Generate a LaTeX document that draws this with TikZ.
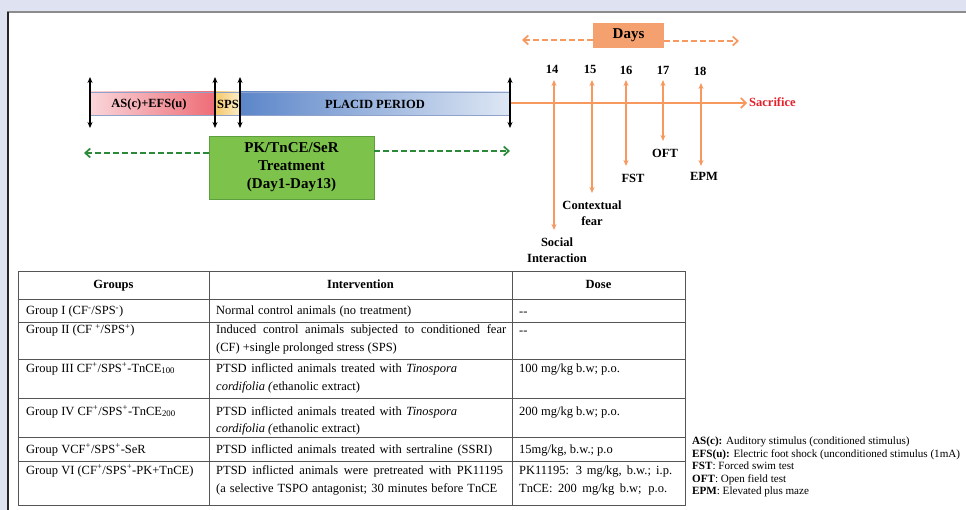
\documentclass[tikz,border=0pt]{standalone}
\usepackage{fontspec}
\setmainfont{Liberation Serif}
\usetikzlibrary{arrows.meta}
\definecolor{bgblue}{HTML}{DFE3F1}
\definecolor{redL}{HTML}{F9D6DA}
\definecolor{redR}{HTML}{EE6C76}
\definecolor{yelL}{HTML}{F5C768}
\definecolor{yelR}{HTML}{FBEDC8}
\definecolor{bluL}{HTML}{5C86C9}
\definecolor{bluR}{HTML}{DEE7F4}
\definecolor{barline}{HTML}{8EA2CA}
\definecolor{grfill}{HTML}{7CC24B}
\definecolor{grline}{HTML}{5E9E3E}
\definecolor{grdash}{HTML}{2B8A3A}
\definecolor{orange1}{HTML}{F7995F}
\definecolor{daysfill}{HTML}{F4A16F}
\definecolor{sacred}{HTML}{E5202A}
\definecolor{tblline}{HTML}{555555}
\tikzset{
  blackarr/.style={line width=1.2pt,black,{Stealth[length=6pt,width=5pt]}-{Stealth[length=6pt,width=5pt]}},
  orarr/.style={line width=1.4pt,orange1,{Stealth[length=6pt,width=5pt]}-{Stealth[length=6pt,width=5pt]}},
  gdash/.style={line width=1.7pt,grdash,dash pattern=on 6pt off 3pt,-{Straight Barb[length=5pt,width=9pt]}},
  odash/.style={line width=1.7pt,orange1,dash pattern=on 6pt off 3pt,-{Straight Barb[length=5pt,width=9pt]}},
  btxt/.style={font=\fontsize{12.5}{14}\selectfont\bfseries,inner sep=0pt},
  tcell/.style={font=\fontsize{12.5}{14}\selectfont,inner sep=0pt,anchor=base west},
  thead/.style={font=\fontsize{12.5}{14}\selectfont\bfseries,inner sep=0pt,anchor=base},
  legtxt/.style={font=\fontsize{11.1}{12}\selectfont,inner sep=0pt,anchor=base west},
}
\begin{document}
\begin{tikzpicture}[x=1pt,y=-1pt]
\useasboundingbox (0,0) rectangle (966,510);
\fill[bgblue] (0,0) rectangle (966,510);
\fill[white] (8,12) rectangle (966,510);
\draw[line width=2pt,black!45] (7,12) -- (966,12);
\draw[line width=1.5pt,black!85] (8,12) -- (8,510);

% ---- timeline bars
\shade[left color=redL,right color=redR] (90,92) rectangle (215,115);
\shade[left color=yelL,right color=yelR] (215,92) rectangle (240,115);
\shade[left color=bluL,right color=bluR] (240,92) rectangle (510,115);
\draw[barline,line width=0.8pt] (90,92) rectangle (510,115);
\node[btxt] (asefs) at (149,104) {AS(c)+EFS(u)};
\node[btxt] (sps) at (228,104) {SPS};
\node[btxt] (placid) at (375,104) {PLACID PERIOD};

\foreach \n/\x in {a/90,b/215,c/240,d/510}{
  \coordinate (t\n) at (\x,77);
  \coordinate (b\n) at (\x,128);
  \draw[blackarr] (t\n) -- (b\n);
}

% ---- treatment box
\node[draw=grline,fill=grfill,line width=0.8pt,minimum width=165pt,minimum height=63pt,
  align=center,font=\fontsize{15}{18}\selectfont\bfseries,inner sep=0pt] (treat) at (291.5,167.5)
  {PK/TnCE/SeR\\Treatment\\(Day1-Day13)};
\coordinate (gl) at (84,153);
\coordinate (gr) at (510,151);
\draw[gdash] (treat.west |- gl) -- (gl);
\draw[gdash] (treat.east |- gr) -- (gr);

% ---- days
\node[fill=daysfill,minimum width=71pt,minimum height=25pt,inner sep=0pt,
  font=\fontsize{15}{17}\selectfont\bfseries] (days) at (628.5,35.5) {Days};
\coordinate (dl) at (522,40);
\coordinate (dr) at (739,41);
\draw[odash] (days.west |- dl) -- (dl);
\draw[odash] (days.east |- dr) -- (dr);

% ---- post timeline
\coordinate (ostart) at (511,103);
\node[btxt,text=sacred,anchor=west] (sac) at (749,102) {Sacrifice};
\draw[line width=1.7pt,orange1,-{Straight Barb[length=5pt,width=10pt]}] (ostart) -- ([xshift=-2pt]ostart -| sac.west);

\node[btxt] (d14) at (552,69) {14};
\node[btxt] (d15) at (590,69) {15};
\node[btxt] (d16) at (626,70) {16};
\node[btxt] (d17) at (663,70) {17};
\node[btxt] (d18) at (700,71) {18};

\coordinate (e14) at (554,230);
\coordinate (e15) at (592,193);
\coordinate (e16) at (626,166);
\coordinate (e17) at (663,141);
\coordinate (e18) at (701,166);
\draw[orarr] (554,80) -- (e14);
\draw[orarr] (592,80) -- (e15);
\draw[orarr] (626,80) -- (e16);
\draw[orarr] (663,80) -- (e17);
\draw[orarr] (701,83) -- (e18);

\node[btxt,align=center,font=\fontsize{12.5}{16}\selectfont\bfseries] (social) at (557,250) {Social\\Interaction};
\node[btxt,align=center,font=\fontsize{12.5}{16}\selectfont\bfseries] (ctx) at (592,213) {Contextual\\fear};
\node[btxt] (fst) at (633,178) {FST};
\node[btxt] (oft) at (665,153) {OFT};
\node[btxt] (epm) at (704,176) {EPM};

% ---- table
\begin{scope}[tblline,line width=0.8pt]
\draw (18,271) rectangle (685,505);
\foreach \y in {299,322,359,398,437,461} \draw (18,\y) -- (685,\y);
\draw (209,271) -- (209,505);
\draw (512,271) -- (512,505);
\end{scope}

\node[thead] (h1) at (113.5,289) {Groups};
\node[thead] (h2) at (360.5,289) {Intervention};
\node[thead] (h3) at (598.5,289) {Dose};

% row I
\node[tcell] (g1) at (26,315) {Group I (CF\textsuperscript{-}/SPS\textsuperscript{-})};
\node[tcell] (i1) at (216,315) {\makebox[195pt][s]{Normal control animals (no treatment)}};
\node[tcell] (s1) at (519,316) {-{}-};
% row II
\node[tcell] (g2) at (26,334) {Group II (CF \textsuperscript{+}/SPS\textsuperscript{+})};
\node[tcell] (i2a) at (216,334) {\makebox[290pt][s]{Induced control animals subjected to conditioned fear}};
\node[tcell] (i2b) at (216,352) {(CF) +single prolonged stress (SPS)};
\node[tcell] (s2) at (519,335) {-{}-};
% row III
\node[tcell] (g3) at (26,372) {Group III CF\textsuperscript{+}/SPS\textsuperscript{+}-TnCE\textsubscript{100}};
\node[tcell] (i3a) at (216,372) {\makebox[241pt][s]{PTSD inflicted animals treated with \textit{Tinospora}}};
\node[tcell] (i3b) at (216,390) {\textit{cordifolia (}ethanolic extract)};
\node[tcell] (s3) at (519,372) {100 mg/kg b.w; p.o.};
% row IV
\node[tcell] (g4) at (26,415) {Group IV CF\textsuperscript{+}/SPS\textsuperscript{+}-TnCE\textsubscript{200}};
\node[tcell] (i4a) at (216,415) {\makebox[241pt][s]{PTSD inflicted animals treated with \textit{Tinospora}}};
\node[tcell] (i4b) at (216,432) {\textit{cordifolia (}ethanolic extract)};
\node[tcell] (s4) at (519,415) {200 mg/kg b.w; p.o.};
% row V
\node[tcell] (g5) at (26,453) {Group VCF\textsuperscript{+}/SPS\textsuperscript{+}-SeR};
\node[tcell] (i5) at (216,453) {\makebox[276pt][s]{PTSD inflicted animals treated with sertraline (SSRI)}};
\node[tcell] (s5) at (519,453) {15mg/kg, b.w.; p.o};
% row VI
\node[tcell] (g6) at (26,474) {Group VI (CF\textsuperscript{+}/SPS\textsuperscript{+}-PK+TnCE)};
\node[tcell] (i6a) at (216,474) {\makebox[287pt][s]{PTSD inflicted animals were pretreated with PK11195}};
\node[tcell] (i6b) at (216,492) {\makebox[281pt][s]{(a selective TSPO antagonist; 30 minutes before TnCE}};
\node[tcell] (s6a) at (519,474) {\makebox[153pt][s]{PK11195: 3 mg/kg, b.w.; i.p.}};
\node[tcell] (s6b) at (519,492) {\makebox[148pt][s]{TnCE: 200 mg/kg b.w; p.o.}};

% ---- legend
\node[legtxt] (l1) at (692,444.5) {\textbf{AS(c):} Auditory stimulus (conditioned stimulus)};
\node[legtxt] (l2) at (692,457) {\textbf{EFS(u):} Electric foot shock (unconditioned stimulus (1mA)};
\node[legtxt] (l3) at (692,469.5) {\textbf{FST}: Forced swim test};
\node[legtxt] (l4) at (692,482) {\textbf{OFT}: Open field test};
\node[legtxt] (l5) at (692,494.5) {\textbf{EPM}: Elevated plus maze};
\end{tikzpicture}
\end{document}
